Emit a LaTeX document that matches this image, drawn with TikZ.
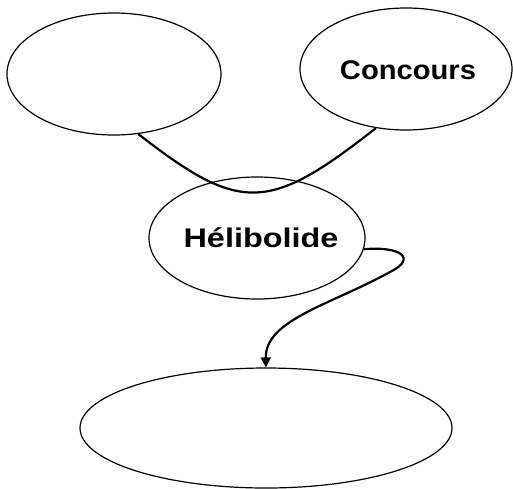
\documentclass[tikz,border=0pt]{standalone}
\usepackage{fontspec}
\setmainfont{Liberation Sans}
\usetikzlibrary{shapes.geometric,arrows.meta}
\tikzset{
  oval/.style={draw=black, ellipse, line width=1.2pt, inner sep=0pt, fill=white},
  link/.style={draw=black, line width=2.2pt},
  lbl/.style={font=\fontsize{27}{30}\selectfont\bfseries}
}
\begin{document}
\begin{tikzpicture}[x=1pt,y=-1pt]
\useasboundingbox[fill=white] (0,0) rectangle (513,488);
\node[oval, minimum width=214pt, minimum height=122pt] (tl) at (114,74) {};
\node[oval, minimum width=212pt, minimum height=122pt] (tr) at (406,69) {};
\node[oval, minimum width=216pt, minimum height=122pt] (mid) at (257,238) {};
\node[oval, minimum width=372pt, minimum height=120pt] (bot) at (266,428) {};
\node[lbl] (tconc) at (408,70) {\scalebox{1.08}[1]{Concours}};
\node[lbl] (thel) at (261,238) {\scalebox{1.2}[1]{Hélibolide}};
\draw[link] (tl.-68) .. controls (240,213) and (268,213) .. (tr.-117);
\draw[link, -{Triangle[length=10pt,width=10pt]}] (mid.-6) .. controls (400,246) and (418,258) .. (390,272)
  .. controls (330,305) and (265,320) .. (bot.north);
\end{tikzpicture}
\end{document}
